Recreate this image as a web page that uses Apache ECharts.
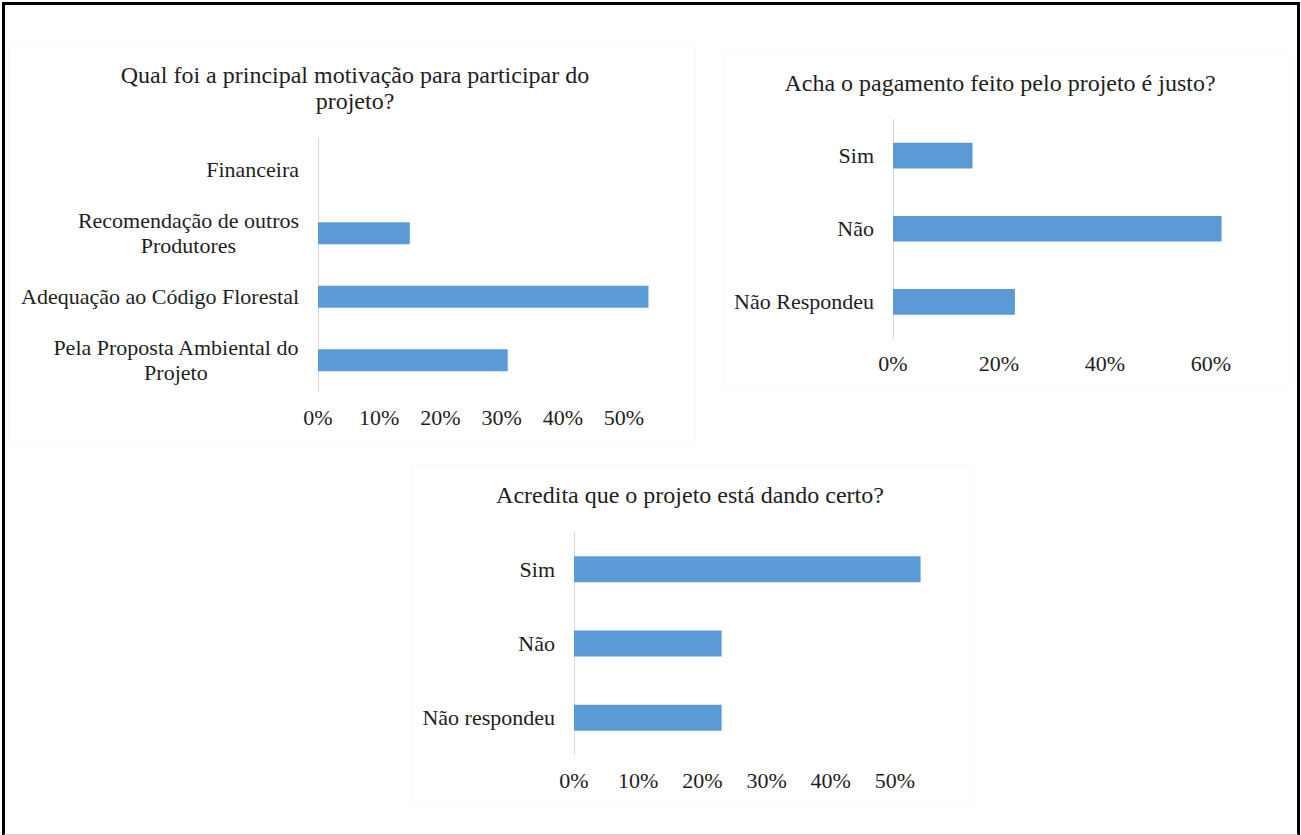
<!DOCTYPE html>
<html>
<head>
<meta charset="utf-8">
<script src="https://cdn.jsdelivr.net/npm/echarts@6/dist/echarts.min.js"></script>
<style>
  html, body { margin: 0; padding: 0; background: #ffffff; }
  #chart { position: absolute; left: 0; top: 0; width: 1301px; height: 835px; }
  #frame {
    position: absolute; left: 2px; top: 2px; width: 1292px; height: 829px;
    border-left: 3px solid #000; border-top: 3px solid #000;
    border-right: 3px solid #000; border-bottom: 2px solid #d4d4d4;
    pointer-events: none;
  }
</style>
</head>
<body>
<div id="chart"></div>
<div id="frame"></div>
<script>
// Survey answers (share of respondents)
const motivTitle = 'Qual foi a principal motivação para participar do\nprojeto?';
const motivCategories = [
  'Financeira',
  'Recomendação de outros\nProdutores',
  'Adequação ao Código Florestal',
  'Pela Proposta Ambiental do\nProjeto'
];
const motivValues = [0, 0.15, 0.54, 0.31];

const pagTitle = 'Acha o pagamento feito pelo projeto é justo?';
const pagCategories = ['Sim', 'Não', 'Não Respondeu'];
const pagValues = [0.15, 0.62, 0.23];

const certoTitle = 'Acredita que o projeto está dando certo?';
const certoCategories = ['Sim', 'Não', 'Não respondeu'];
const certoValues = [0.54, 0.23, 0.23];

const SERIF = "'Liberation Serif', 'Times New Roman', 'DejaVu Serif', serif";
const TEXT = '#1e1e1e';
const BAR = '#5B9BD5';
const AXIS = '#d9d9d9';

const chart = echarts.init(document.getElementById('chart'), null, { renderer: 'svg' });

// Multi-line category labels: each line centred within the block, block right-aligned.
function catLabel(v) {
  return v.split('\n').map(s => '{c|' + s + '}').join('\n');
}

function pctFormatter(step) {
  return function (v) {
    const p = Math.round(v * 100);
    const s = Math.round(step * 100);
    return (p % s === 0) ? p + '%' : '';
  };
}

function valueAxis(gridIndex, max, interval) {
  return {
    type: 'value', gridIndex, min: 0, max, interval,
    axisLine: { show: false }, axisTick: { show: false }, splitLine: { show: false },
    axisLabel: {
      formatter: pctFormatter(interval), color: TEXT, fontFamily: SERIF, fontSize: 22,
      margin: 14, showMaxLabel: false
    }
  };
}

function categoryAxis(gridIndex, data) {
  return {
    type: 'category', gridIndex, data, inverse: true,
    axisLine: { show: true, lineStyle: { color: AXIS, width: 1 } },
    axisTick: { show: false }, splitLine: { show: false },
    axisLabel: {
      formatter: catLabel, color: TEXT, fontFamily: SERIF, fontSize: 22, margin: 19,
      lineHeight: 25, interval: 0,
      rich: { c: { align: 'center', color: TEXT, fontFamily: SERIF, fontSize: 22, lineHeight: 25 } }
    }
  };
}

function barSeries(idx, data) {
  return {
    type: 'bar', xAxisIndex: idx, yAxisIndex: idx, data,
    barWidth: '35%', itemStyle: { color: BAR }, silent: true
  };
}

function titleOpt(text, cx, top) {
  return {
    text, left: cx, top, textAlign: 'center', padding: 0,
    textStyle: { fontFamily: SERIF, fontSize: 24, fontWeight: 'normal', color: TEXT, lineHeight: 26 }
  };
}

// Very light outlines around each chart panel
const faint = '#f9f9f9';
function box(x, y, w, h) {
  return { type: 'rect', shape: { x, y, width: w, height: h }, silent: true, z: -10,
    style: { fill: null, stroke: faint, lineWidth: 1 } };
}

chart.setOption({
  animation: false,
  backgroundColor: '#ffffff',
  title: [
    titleOpt(motivTitle, 355, 62),
    titleOpt(pagTitle, 1000, 70),
    titleOpt(certoTitle, 690, 482)
  ],
  graphic: [
    box(8.5, 45.5, 687, 397),
    box(724.5, 52.5, 566, 335),
    box(412.5, 465.5, 561, 339)
  ],
  grid: [
    { left: 318, top: 138, width: 336.6, height: 254 },
    { left: 893, top: 119, width: 344.5, height: 219.5 },
    { left: 574, top: 532, width: 353, height: 223 }
  ],
  xAxis: [
    valueAxis(0, 0.55, 0.1),
    valueAxis(1, 0.65, 0.2),
    valueAxis(2, 0.55, 0.1)
  ],
  yAxis: [
    categoryAxis(0, motivCategories),
    categoryAxis(1, pagCategories),
    categoryAxis(2, certoCategories)
  ],
  series: [
    barSeries(0, motivValues),
    barSeries(1, pagValues),
    barSeries(2, certoValues)
  ]
});
</script>
</body>
</html>
